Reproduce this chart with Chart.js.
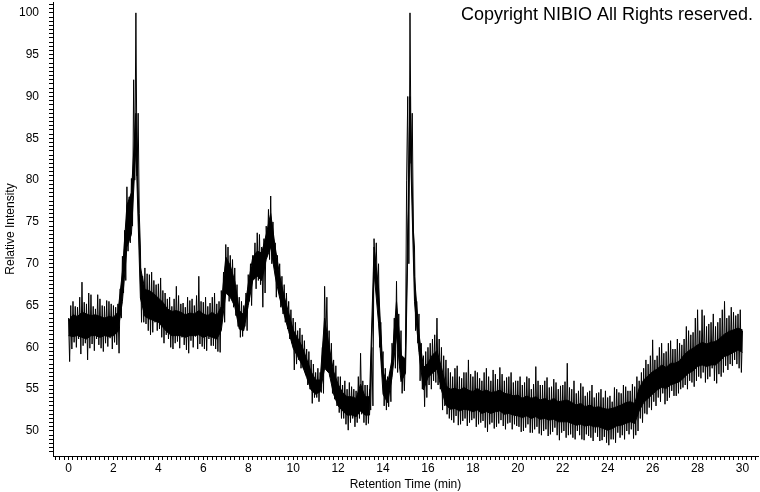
<!DOCTYPE html>
<html>
<head>
<meta charset="utf-8">
<script src="https://cdn.jsdelivr.net/npm/chart.js@4.4.1/dist/chart.umd.min.js"></script>
<style>
  html, body { margin: 0; padding: 0; background: #fff; }
  #wrap { width: 760px; height: 492px; position: relative; }
</style>
</head>
<body>
<div id="wrap"><canvas id="chart" width="760" height="492"></canvas></div>
<script>
// Chromatogram, one sample every 0.2 min (t = i*0.2).
// coreHigh/coreLow: solid black band of the trace at t
// highs, lows, midHighs, midLows: noise spikes at t, t+0.05, t+0.1, t+0.15
var sampleStep = 0.2;

var coreHigh = [
	63.2, 63.9, 63.7, 64.2, 64.0, 63.8, 63.9, 63.7, 63.5, 63.7,
	63.6, 64.2, 69.0, 77.0, 78.5, 88.0, 69.6, 66.9, 66.8, 66.4,
	65.9, 65.4, 64.6, 64.3, 64.4, 64.2, 63.9, 64.1, 64.0, 64.4,
	64.0, 63.8, 64.2, 63.8, 64.9, 70.8, 69.8, 67.9, 64.4, 63.9,
	67.5, 70.8, 71.5, 71.3, 73.5, 76.0, 72.0, 68.6, 66.1, 64.1,
	62.1, 61.1, 60.1, 58.6, 57.1, 56.1, 56.1, 63.5, 60.1, 57.1,
	55.6, 54.6, 54.1, 54.1, 53.9, 55.6, 54.1, 54.1, 72.0, 67.1,
	57.1, 55.6, 58.6, 65.5, 59.1, 58.6, 90.0, 68.5, 61.6, 57.6,
	58.1, 59.1, 59.6, 57.6, 55.4, 55.0, 55.1, 54.9, 55.2, 54.9,
	54.7, 55.1, 54.7, 54.9, 54.6, 54.7, 54.9, 54.5, 54.4, 54.2,
	54.3, 53.9, 54.2, 53.9, 54.1, 53.7, 53.9, 53.6, 53.9, 53.5,
	53.6, 53.7, 53.4, 53.1, 53.3, 52.9, 53.1, 52.8, 52.9, 52.7,
	52.6, 52.7, 52.9, 53.1, 53.4, 53.5, 53.3, 55.1, 56.1, 56.6,
	57.1, 57.4, 57.9, 57.6, 58.1, 58.1, 58.4, 59.1, 59.6, 59.9,
	60.3, 60.6, 60.4, 60.6, 60.7, 61.1, 61.6, 61.9, 62.1, 62.3,
	62.1
];

var coreLow = [
	61.4, 61.3, 61.4, 61.2, 61.0, 61.4, 61.4, 61.2, 61.4, 61.3,
	61.4, 61.9, 65.5, 72.0, 73.5, 84.0, 65.9, 63.7, 63.4, 63.2,
	63.0, 62.4, 61.8, 61.4, 61.4, 61.4, 61.2, 61.4, 61.4, 61.5,
	61.2, 61.4, 61.2, 61.0, 62.0, 66.5, 66.0, 64.9, 62.2, 62.0,
	65.0, 68.0, 68.5, 68.0, 70.5, 72.0, 68.5, 65.9, 63.9, 61.9,
	59.9, 58.9, 57.9, 56.4, 54.9, 54.4, 54.7, 57.5, 56.9, 54.4,
	53.0, 52.4, 51.9, 51.9, 51.7, 52.4, 51.9, 51.9, 69.0, 62.9,
	54.4, 53.4, 56.4, 61.5, 55.9, 56.9, 86.0, 65.5, 59.4, 54.9,
	56.4, 56.9, 57.4, 54.9, 53.1, 52.6, 52.7, 52.4, 52.6, 52.5,
	52.3, 52.5, 52.1, 52.3, 52.1, 52.3, 52.4, 52.0, 52.1, 51.9,
	51.8, 51.6, 51.8, 51.5, 51.7, 51.4, 51.5, 51.3, 51.4, 51.1,
	51.1, 51.1, 50.9, 50.7, 50.8, 50.6, 50.7, 50.5, 50.5, 50.3,
	50.1, 50.3, 50.6, 50.7, 50.9, 51.1, 50.9, 52.4, 53.4, 53.9,
	54.4, 54.9, 55.2, 55.1, 55.5, 55.7, 55.9, 56.4, 56.9, 57.2,
	57.7, 57.9, 57.7, 57.9, 57.9, 58.4, 58.9, 59.1, 59.4, 59.7,
	59.4
];

var highs = [
	63.5, 65.5, 64.8, 67.8, 65.2, 66.3, 64.6, 65.8, 64.9, 65.5,
	65.0, 65.2, 70.9, 79.2, 80.2, 100, 72.0, 69.5, 68.7, 68.0,
	67.6, 66.8, 65.8, 64.9, 67.3, 65.2, 64.8, 65.6, 65.0, 68.5,
	65.4, 64.9, 66.0, 65.2, 66.8, 72.3, 71.0, 69.5, 66.0, 65.0,
	68.7, 71.0, 73.7, 72.0, 74.5, 78.1, 72.5, 70.0, 67.5, 65.5,
	63.5, 62.0, 61.5, 59.8, 58.5, 57.0, 57.0, 67.3, 62.0, 58.5,
	56.5, 55.5, 55.0, 55.3, 54.8, 59.3, 55.5, 55.0, 73.0, 70.0,
	59.5, 56.5, 60.5, 67.9, 62.0, 60.0, 100, 72.0, 64.0, 59.0,
	60.0, 61.0, 63.5, 60.0, 58.5, 57.0, 57.5, 56.5, 57.0, 58.5,
	56.5, 57.0, 56.0, 57.5, 56.0, 56.8, 57.6, 56.0, 56.5, 55.8,
	56.0, 55.5, 56.5, 55.0, 57.7, 55.5, 56.0, 55.2, 56.2, 55.0,
	55.5, 58.1, 55.0, 54.5, 55.7, 54.2, 54.8, 54.0, 54.6, 54.0,
	54.0, 53.5, 55.0, 54.5, 55.3, 54.8, 55.3, 56.0, 57.5, 58.0,
	60.9, 59.0, 60.5, 59.5, 60.8, 59.8, 60.5, 61.0, 62.0, 61.8,
	64.5, 64.5, 62.5, 63.0, 62.5, 63.5, 65.5, 63.8, 64.2, 64.0,
	62.0
];

var lows = [
	58.3, 60.6, 61.0, 60.2, 58.5, 60.4, 61.0, 59.9, 60.5, 61.1,
	60.6, 59.3, 66.5, 71.5, 74.5, 80.5, 63.0, 62.8, 61.5, 63.0,
	62.2, 60.5, 61.0, 59.8, 60.7, 61.2, 59.7, 60.8, 61.3, 60.4,
	59.8, 61.0, 60.2, 59.5, 64.0, 66.5, 65.8, 63.8, 61.2, 62.5,
	65.5, 68.2, 68.0, 64.8, 71.0, 70.0, 66.0, 64.8, 63.0, 61.0,
	57.3, 58.5, 57.5, 55.5, 53.3, 54.0, 54.6, 60.5, 56.5, 53.8,
	52.2, 51.5, 50.1, 51.5, 51.0, 52.0, 50.7, 52.5, 68.5, 60.0,
	53.0, 52.9, 58.5, 57.0, 54.5, 80.0, 82.0, 62.0, 56.0, 52.9,
	55.5, 56.0, 55.5, 52.5, 52.0, 51.3, 51.8, 50.8, 51.5, 51.0,
	51.5, 50.8, 51.2, 49.9, 51.0, 50.5, 51.3, 50.2, 51.0, 50.8,
	50.5, 50.0, 50.8, 49.8, 50.5, 49.5, 50.2, 49.6, 50.4, 48.9,
	50.0, 49.5, 49.2, 50.0, 49.0, 49.6, 49.2, 49.8, 48.8, 49.3,
	48.3, 49.0, 49.8, 49.5, 50.0, 50.2, 49.5, 51.5, 52.1, 52.8,
	53.5, 54.0, 54.5, 53.6, 54.8, 54.2, 55.0, 55.5, 56.0, 55.3,
	56.5, 57.0, 56.2, 57.5, 55.7, 56.5, 57.8, 58.0, 58.5, 57.5
];

var midHighs = [
	65.0, 64.9, 66.0, 65.4, 66.5, 64.9, 66.3, 65.0, 65.6, 65.2,
	64.8, 67.0, 74.0, 78.0, 92.0, 88.0, 68.5, 68.8, 69.0, 67.5,
	68.3, 66.5, 66.0, 65.8, 66.2, 65.3, 66.0, 65.8, 66.2, 65.5,
	66.0, 65.3, 66.5, 65.5, 69.0, 72.0, 70.5, 67.5, 65.5, 66.5,
	70.0, 72.5, 73.5, 73.0, 76.5, 75.0, 71.0, 68.5, 66.5, 64.5,
	63.0, 62.3, 60.8, 59.5, 58.0, 57.5, 60.0, 66.0, 60.5, 57.8,
	56.5, 56.0, 55.8, 55.0, 56.5, 56.0, 55.5, 60.0, 72.5, 63.0,
	57.5, 57.0, 63.5, 64.0, 58.5, 90.0, 88.0, 65.5, 60.5, 59.5,
	60.5, 61.5, 61.0, 59.0, 57.5, 56.5, 57.8, 56.3, 57.0, 56.8,
	57.2, 56.3, 57.0, 56.5, 57.3, 56.2, 56.8, 56.4, 57.0, 56.0,
	56.5, 55.8, 56.3, 55.6, 56.0, 55.5, 56.4, 55.3, 55.8, 55.4,
	55.9, 55.2, 56.0, 54.8, 55.3, 54.6, 55.5, 54.5, 55.0, 54.8,
	54.2, 55.2, 54.6, 55.5, 54.8, 55.6, 56.5, 57.0, 58.5, 59.0,
	58.5, 60.0, 59.3, 60.5, 59.8, 61.0, 60.3, 62.5, 61.5, 63.5,
	62.0, 63.8, 62.8, 64.0, 63.0, 64.5, 63.5, 64.8, 63.8, 64.5
];

var midLows = [
	59.8, 60.0, 59.2, 60.5, 59.9, 59.6, 60.3, 59.5, 60.1, 59.8,
	60.3, 63.5, 68.0, 72.5, 80.0, 76.0, 63.0, 62.0, 61.8, 62.0,
	61.2, 61.5, 60.0, 60.5, 59.9, 60.3, 59.3, 60.0, 59.8, 60.1,
	59.6, 60.2, 59.8, 59.4, 63.0, 65.5, 64.8, 62.5, 61.3, 62.0,
	65.0, 67.0, 67.5, 66.5, 70.5, 70.0, 66.5, 64.0, 62.2, 60.5,
	58.0, 57.5, 56.8, 55.0, 54.0, 53.5, 54.5, 58.0, 54.5, 53.0,
	51.5, 50.8, 51.0, 50.5, 51.5, 51.0, 50.9, 53.0, 66.0, 57.5,
	52.5, 53.5, 57.5, 57.5, 54.8, 70.0, 74.0, 60.5, 55.0, 54.0,
	55.0, 55.8, 55.0, 53.0, 51.5, 51.0, 50.7, 51.2, 50.6, 51.3,
	50.5, 51.0, 50.4, 50.8, 50.3, 50.9, 50.6, 50.9, 50.2, 50.6,
	49.9, 50.4, 49.8, 50.2, 49.7, 50.0, 49.4, 49.9, 49.5, 49.8,
	49.2, 49.6, 49.0, 49.5, 48.9, 49.4, 48.8, 49.3, 48.9, 48.6,
	49.0, 48.6, 49.2, 49.0, 49.6, 49.1, 50.0, 51.0, 52.0, 52.5,
	53.0, 53.5, 53.2, 54.0, 54.2, 54.5, 55.2, 55.0, 55.8, 56.0,
	56.3, 55.8, 56.5, 56.0, 56.8, 57.0, 57.3, 57.8, 58.0, 57.0
];

var xTitle = 'Retention Time (min)';
var yTitle = 'Relative Intensity';
var copyright = 'Copyright NIBIO All Rights reserved.';

function band(values) {
	return values.map(function(v, i) { return { x: i * sampleStep, y: v }; });
}

// zigzag through the spike envelope
var spikes = [];
highs.forEach(function(h, i) {
	var t = i * sampleStep;
	spikes.push({ x: t, y: h });
	if (i < lows.length) {
		spikes.push({ x: t + 0.05, y: lows[i] });
		spikes.push({ x: t + 0.10, y: midHighs[i] });
		spikes.push({ x: t + 0.15, y: midLows[i] });
	}
});

function isMultiple(v, step) {
	return Math.abs(v / step - Math.round(v / step)) < 1e-6;
}

var font = { family: '"Liberation Sans", Arial, sans-serif', size: 12 };

var copyrightPlugin = {
	id: 'copyright',
	afterDraw: function(chart) {
		var c = chart.ctx;
		c.save();
		c.font = '18px "Liberation Sans", Arial, sans-serif';
		c.fillStyle = '#000';
		c.textAlign = 'right';
		c.textBaseline = 'alphabetic';
		c.fillText(copyright, 753, 20);
		c.restore();
	}
};

var ctx = document.getElementById('chart').getContext('2d');
var chart = new Chart(ctx, {
	type: 'line',
	data: {
		datasets: [{
			data: band(coreHigh),
			borderColor: '#000',
			backgroundColor: '#000',
			borderWidth: 1,
			pointRadius: 0,
			tension: 0,
			fill: '+1'
		}, {
			data: band(coreLow),
			borderColor: '#000',
			borderWidth: 1,
			pointRadius: 0,
			tension: 0,
			fill: false
		}, {
			data: spikes,
			borderColor: '#000',
			borderWidth: 1,
			pointRadius: 0,
			tension: 0,
			fill: false
		}]
	},
	options: {
		responsive: false,
		animation: false,
		events: [],
		layout: { padding: { top: 2, right: 2, left: 0, bottom: 0 } },
		plugins: {
			legend: { display: false },
			tooltip: { enabled: false }
		},
		scales: {
			x: {
				type: 'linear',
				min: -0.69,
				max: 30.69,
				afterFit: function(s) { s.height = 36; s.paddingLeft = 0; s.paddingRight = 0; },
				border: { color: '#000', width: 1 },
				grid: { drawOnChartArea: false, tickLength: 4, color: '#000' },
				ticks: {
					stepSize: 0.2,
					includeBounds: false,
					autoSkip: false,
					maxRotation: 0,
					padding: 1,
					color: '#000',
					font: font,
					callback: function(v) { return isMultiple(v, 2) ? String(Math.round(v)) : ''; }
				},
				title: { display: true, text: xTitle, color: '#000', padding: 0, font: font }
			},
			y: {
				type: 'linear',
				min: 47.01,
				max: 101.3,
				afterFit: function(s) { s.width = 53; s.paddingTop = 0; s.paddingBottom = 0; },
				border: { color: '#000', width: 1 },
				grid: { drawOnChartArea: false, tickLength: 4, color: '#000' },
				ticks: {
					stepSize: 0.5,
					includeBounds: false,
					autoSkip: false,
					padding: 10,
					color: '#000',
					font: font,
					callback: function(v) { return isMultiple(v, 5) ? String(Math.round(v)) : ''; }
				},
				title: { display: true, text: yTitle, color: '#000', padding: { top: 3, bottom: 0 }, font: font }
			}
		}
	},
	plugins: [copyrightPlugin]
});
</script>
</body>
</html>
